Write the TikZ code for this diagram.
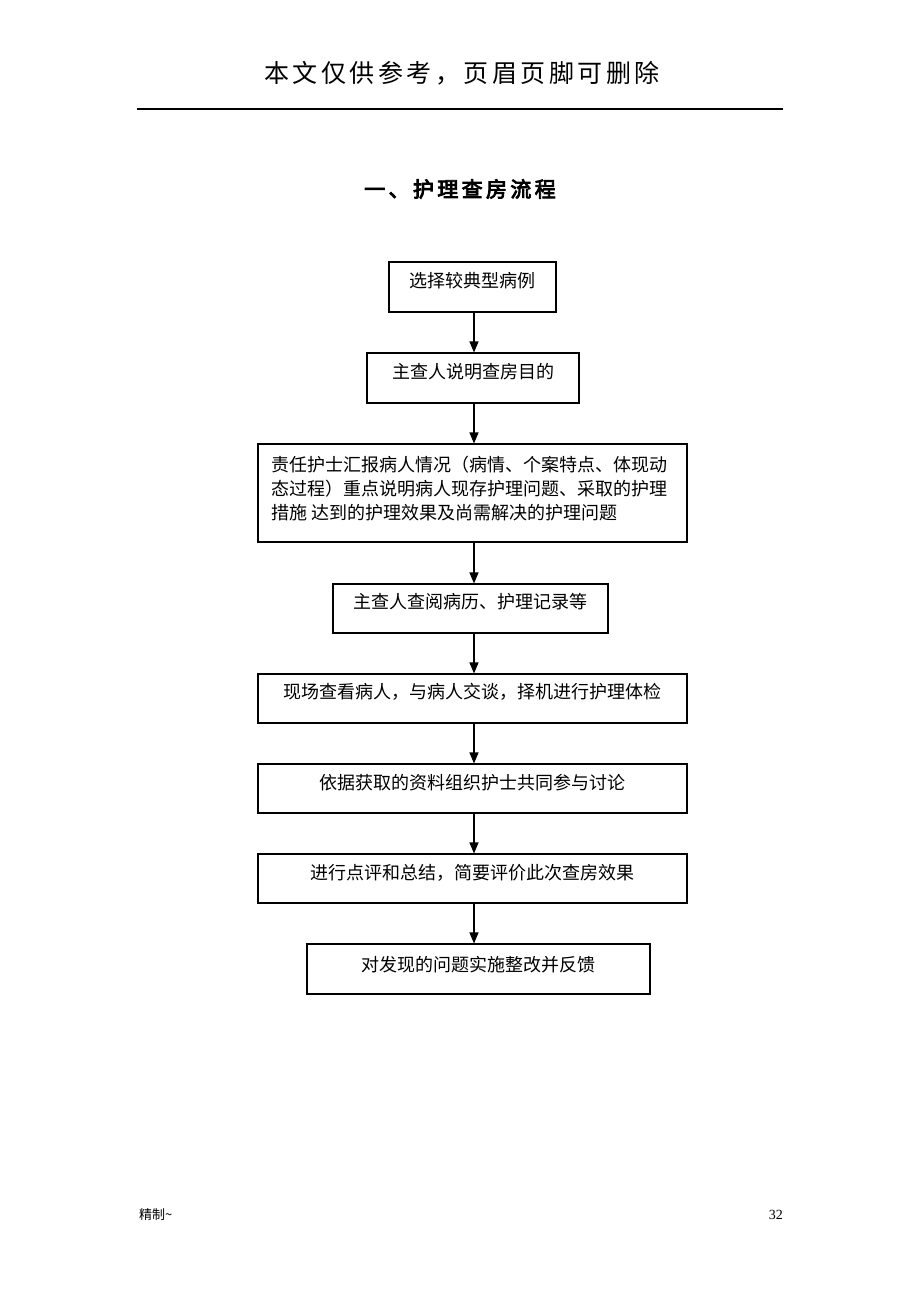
\documentclass[tikz,border=0pt]{standalone}
\usepackage{fontspec}
\usetikzlibrary{arrows.meta}
\newfontfamily\cjk{Noto Sans CJK SC}
\newfontfamily\cjkhead[LetterSpace=14]{Noto Sans CJK SC}
\newfontfamily\cjktitle[FakeBold=4,LetterSpace=16]{Noto Sans CJK SC}
\newfontfamily\numfont{Liberation Serif}
\begin{document}
\begin{tikzpicture}[x=1pt,y=-1pt,
  box/.style={draw, line width=1.1pt, inner sep=0pt},
  txt/.style={font=\cjk\fontsize{18}{24}\selectfont, inner sep=0pt},
  arr/.style={line width=1.1pt, -{Triangle[length=11pt,width=9pt]}}]
\fill[white] (0,0) rectangle (920,1302);
\useasboundingbox (0,0) rectangle (920,1302);
% header
\node[inner sep=0pt, font=\cjkhead\fontsize{25}{30}\selectfont] (head) at (462,73) {本文仅供参考，页眉页脚可删除};
\coordinate (hl) at (137,109);
\coordinate (hr) at (783,109);
\draw[line width=1.4pt] (hl) -- (hr);
% title
\node[inner sep=0pt, font=\cjktitle\fontsize{21}{24}\selectfont] (title) at (460,189) {一、护理查房流程};
% boxes
\node[box, minimum width=167pt, minimum height=50pt] (b1) at (472.5,287) {};
\node[txt] (t1) at ([yshift=-19pt]b1.north) {选择较典型病例};
\node[box, minimum width=212pt, minimum height=50pt] (b2) at (473,378) {};
\node[txt] (t2) at ([yshift=-19pt]b2.north) {主查人说明查房目的};
\node[box, minimum width=429pt, minimum height=98pt] (b3) at (472.5,493) {};
\node[txt, align=left, anchor=north west] (t3) at (271,456) {责任护士汇报病人情况（病情、个案特点、体现动\\态过程）重点说明病人现存护理问题、采取的护理\\措施\ 达到的护理效果及尚需解决的护理问题};
\node[box, minimum width=275pt, minimum height=49pt] (b4) at (470.5,608.5) {};
\node[txt] (t4) at ([yshift=-18pt]b4.north) {主查人查阅病历、护理记录等};
\node[box, minimum width=429pt, minimum height=49pt] (b5) at (472.5,698.5) {};
\node[txt] (t5) at ([yshift=-18pt]b5.north) {现场查看病人，与病人交谈，择机进行护理体检};
\node[box, minimum width=429pt, minimum height=49pt] (b6) at (472.5,788.5) {};
\node[txt] (t6) at ([yshift=-19pt]b6.north) {依据获取的资料组织护士共同参与讨论};
\node[box, minimum width=429pt, minimum height=49pt] (b7) at (472.5,878.5) {};
\node[txt] (t7) at ([yshift=-19pt]b7.north) {进行点评和总结，简要评价此次查房效果};
\node[box, minimum width=343pt, minimum height=50pt] (b8) at (478.5,969) {};
\node[txt] (t8) at ([yshift=-21pt]b8.north) {对发现的问题实施整改并反馈};
% arrows
\coordinate (ax) at (474,0);
\draw[arr] (b1.south -| ax) -- (b2.north -| ax);
\draw[arr] (b2.south -| ax) -- (b3.north -| ax);
\draw[arr] (b3.south -| ax) -- (b4.north -| ax);
\draw[arr] (b4.south -| ax) -- (b5.north -| ax);
\draw[arr] (b5.south -| ax) -- (b6.north -| ax);
\draw[arr] (b6.south -| ax) -- (b7.north -| ax);
\draw[arr] (b7.south -| ax) -- (b8.north -| ax);
% footer
\node[inner sep=0pt, anchor=west, font=\cjk\fontsize{13}{15}\selectfont] (foot) at (139,1215) {精制\textasciitilde};
\node[inner sep=0pt, anchor=east, font=\numfont\fontsize{14}{16}\selectfont] (page) at (783,1215) {32};
\end{tikzpicture}
\end{document}
